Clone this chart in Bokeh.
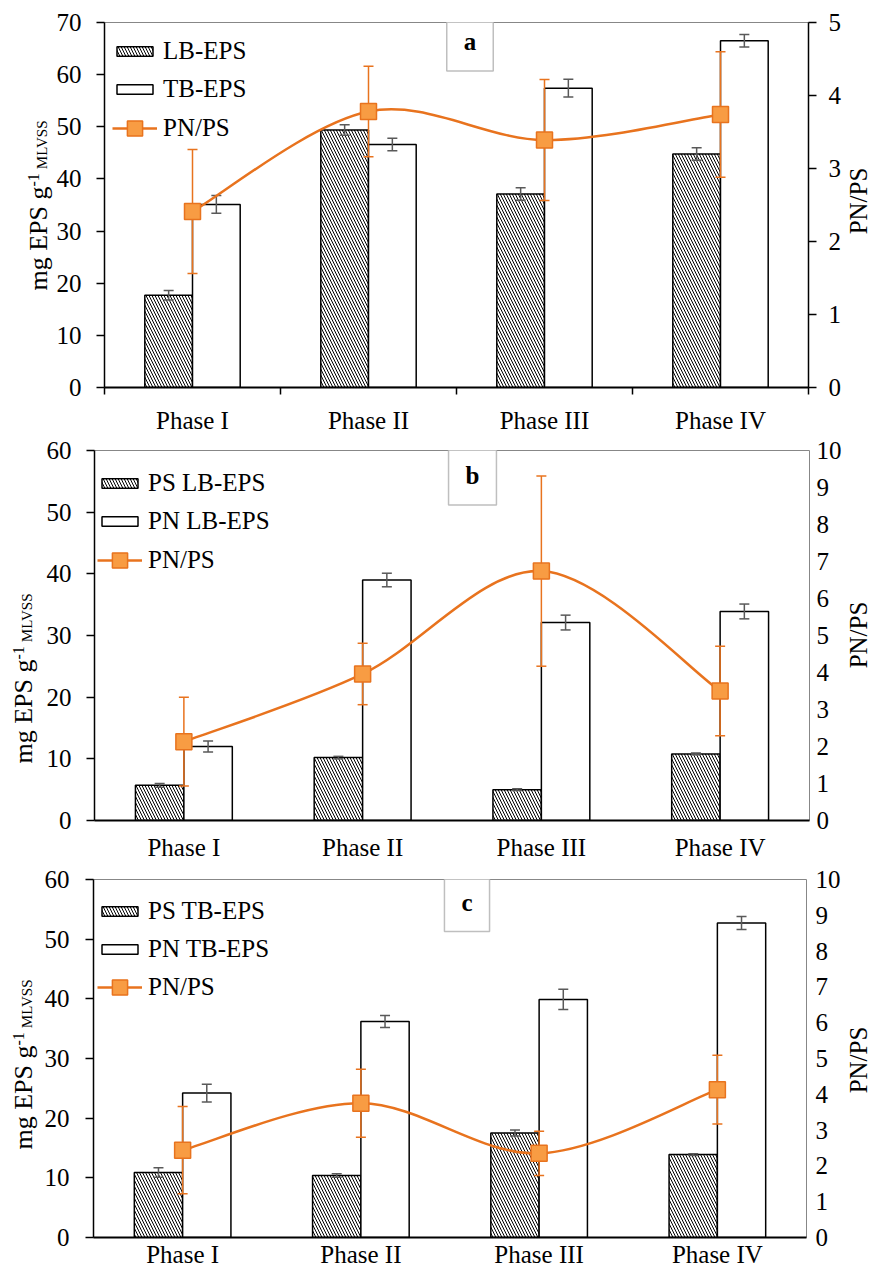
import math
from bokeh.plotting import figure
from bokeh.models import Range1d, LinearAxis, FixedTicker, Label, Legend, LegendItem
from bokeh.layouts import column, row
from bokeh.embed import file_html
from bokeh.resources import INLINE

phases = ["Phase I", "Phase II", "Phase III", "Phase IV"]

# Panel a
a_names = ["LB-EPS", "TB-EPS"]
a_lb = [17.7, 49.4, 37.1, 44.8]
a_lb_err = [0.9, 1.0, 1.2, 1.2]
a_tb = [35.1, 46.6, 57.4, 66.5]
a_tb_err = [1.7, 1.2, 1.7, 1.2]
a_ratio = [2.41, 3.78, 3.39, 3.74]
a_ratio_err = [0.85, 0.62, 0.83, 0.86]

# Panel b
b_names = ["PS LB-EPS", "PN LB-EPS"]
b_ps = [5.7, 10.2, 5.0, 10.8]
b_ps_err = [0.3, 0.2, 0.15, 0.15]
b_pn = [12.0, 39.0, 32.1, 33.9]
b_pn_err = [0.9, 1.1, 1.2, 1.2]
b_ratio = [2.13, 3.96, 6.74, 3.50]
b_ratio_err = [1.2, 0.83, 2.57, 1.21]

# Panel c
c_names = ["PS TB-EPS", "PN TB-EPS"]
c_ps = [10.9, 10.4, 17.5, 13.9]
c_ps_err = [0.8, 0.3, 0.5, 0.15]
c_pn = [24.2, 36.2, 39.9, 52.7]
c_pn_err = [1.5, 1.0, 1.7, 1.1]
c_ratio = [2.44, 3.75, 2.35, 4.13]
c_ratio_err = [1.22, 0.95, 0.62, 0.96]

FONT = "Liberation Serif"
FS = "25px"
ORANGE = "#E8731E"
OFILL = "#F89C43"
GRAY = "#595959"
BW = 0.271
DESC = 0.216

TW = {'m': 778, 'g': 500, ' ': 250, 'E': 611, 'P': 556, 'S': 556, '-': 333,
      '1': 500, 'M': 889, 'L': 611, 'V': 722}


def tw(s, size):
    return sum(TW[c] for c in s) / 1000.0 * size


def smooth(xs, ys):
    n = len(xs)
    P = list(zip(xs, ys))
    out = {k: [] for k in ["x0", "y0", "x1", "y1", "cx0", "cy0", "cx1", "cy1"]}
    for i in range(n - 1):
        p0 = P[i - 1] if i > 0 else P[i]
        p1 = P[i]
        p2 = P[i + 1]
        p3 = P[i + 2] if i + 2 < n else P[i + 1]
        out["x0"].append(p1[0]); out["y0"].append(p1[1])
        out["x1"].append(p2[0]); out["y1"].append(p2[1])
        out["cx0"].append(p1[0] + (p2[0] - p0[0]) / 6.0)
        out["cy0"].append(p1[1] + (p2[1] - p0[1]) / 6.0)
        out["cx1"].append(p2[0] - (p3[0] - p1[0]) / 6.0)
        out["cy1"].append(p2[1] - (p3[1] - p1[1]) / 6.0)
    return out


def errbars(p, xs, vals, errs, color, rng=None, width=1.5):
    kw = {}
    if rng:
        kw["y_range_name"] = rng
    lo = [v - e for v, e in zip(vals, errs)]
    hi = [v + e for v, e in zip(vals, errs)]
    p.segment(x0=xs, y0=lo, x1=xs, y1=hi, line_color=color, line_width=width, **kw)
    p.scatter(xs, hi, marker="dash", size=10, line_color=color, line_width=width, **kw)
    p.scatter(xs, lo, marker="dash", size=10, line_color=color, line_width=width, **kw)


def side_fig(w, h):
    f = figure(width=w, height=h, x_range=Range1d(0, 1), y_range=Range1d(0, 1),
               output_backend="svg", toolbar_location=None,
               x_axis_location=None, y_axis_location=None,
               min_border_left=0, min_border_right=0, min_border_top=0,
               min_border_bottom=0)
    f.xgrid.visible = False
    f.ygrid.visible = False
    f.outline_line_color = None
    return f


def vlabel(f, base_x, y, text, size_px, align="left"):
    # rotated text reading bottom-to-top; base_x is where the glyph baseline falls
    f.add_layout(Label(x=base_x + DESC * size_px, y=y, x_units="screen",
                       y_units="screen", text=text, angle=math.pi / 2,
                       text_align=align, text_baseline="bottom", text_font=FONT,
                       text_font_size="%dpx" % size_px, text_color="black"))


def build(cfg):
    h = cfg["h"]
    p = figure(width=cfg["w"], height=h, x_range=Range1d(0, 4),
               y_range=Range1d(0, cfg["ylmax"]), output_backend="svg",
               toolbar_location=None, min_border_left=cfg["bl"],
               min_border_top=cfg["bt"], min_border_right=cfg["br"],
               min_border_bottom=cfg["bb"])
    p.extra_y_ranges = {"r": Range1d(0, cfg["yrmax"])}
    p.xgrid.visible = False
    p.ygrid.visible = False
    p.outline_line_color = "#878787"
    p.outline_line_width = 1

    centers = [i + 0.5 for i in range(len(phases))]
    xa = [c - BW / 2 for c in centers]
    xb = [c + BW / 2 for c in centers]
    r1 = p.vbar(x=xa, top=cfg["s1"], width=BW, fill_color="white",
                line_color="black", line_width=1.5, hatch_pattern="\\",
                hatch_color="black", hatch_scale=6, hatch_weight=1.0)
    r2 = p.vbar(x=xb, top=cfg["s2"], width=BW, fill_color="white",
                line_color="black", line_width=1.5)
    errbars(p, xa, cfg["s1"], cfg["e1"], GRAY)
    errbars(p, xb, cfg["s2"], cfg["e2"], GRAY)
    errbars(p, centers, cfg["rt"], cfg["re"], ORANGE, "r")
    sm = smooth(centers, cfg["rt"])
    rl = p.bezier(line_color=ORANGE, line_width=2.5, y_range_name="r", **sm)
    rm = p.scatter(centers, cfg["rt"], marker="square", size=16,
                   fill_color=OFILL, line_color=ORANGE, line_width=1.5,
                   y_range_name="r")

    # axes
    xax = p.xaxis[0]
    xax.ticker = FixedTicker(ticks=centers,
                             minor_ticks=[0, 1, 2, 3, 4] if cfg["xticks"] else [])
    xax.major_label_overrides = {c: n for c, n in zip(centers, phases)}
    xax.major_tick_out = 0
    xax.major_tick_in = 0
    xax.minor_tick_out = 7
    xax.minor_tick_in = 0
    xax.minor_tick_line_color = "black"
    xax.minor_tick_line_width = 1.5
    xax.axis_line_width = 2
    xax.axis_line_color = "black"
    xax.major_label_standoff = cfg["xstand"]

    yax = p.yaxis[0]
    yax.ticker = FixedTicker(ticks=list(range(0, cfg["ylmax"] + 1, 10)))
    yax.major_tick_out = 8
    yax.major_tick_in = 0
    yax.minor_tick_out = 0
    yax.minor_tick_in = 0
    yax.axis_line_width = 1.5
    yax.axis_line_color = "black"
    yax.major_tick_line_width = 1.5
    yax.major_label_standoff = cfg["lstand"]

    rax = LinearAxis(y_range_name="r",
                     ticker=FixedTicker(ticks=list(range(0, cfg["yrmax"] + 1))))
    rax.minor_tick_out = 0
    rax.minor_tick_in = 0
    rax.major_tick_in = 0
    if cfg["rline"]:
        rax.axis_line_width = 1.5
        rax.axis_line_color = "black"
        rax.major_tick_out = 8
        rax.major_tick_line_width = 1.5
    else:
        rax.axis_line_color = None
        rax.major_tick_line_color = None
        rax.major_tick_out = 0
    rax.major_label_standoff = cfg["rstand"]
    p.add_layout(rax, "right")

    for ax in [xax, yax, rax]:
        ax.major_label_text_font = FONT
        ax.major_label_text_font_size = FS
        ax.major_label_text_color = "black"

    # legends
    H = cfg["fh"]
    rows = cfg["rows"]
    common = dict(label_text_font=FONT, label_text_font_size=FS,
                  label_text_color="black", glyph_width=45, label_standoff=6,
                  padding=0, margin=0, border_line_color=None,
                  background_fill_alpha=0, label_height=30, spacing=8)
    leg1 = Legend(items=[LegendItem(label=cfg["names"][0], renderers=[r1]),
                         LegendItem(label=cfg["names"][1], renderers=[r2])],
                  location=(cfg["lx"], H - (rows[0] - 15) - 68),
                  glyph_height=12, **common)
    leg2 = Legend(items=[LegendItem(label="PN/PS", renderers=[rl, rm])],
                  location=(cfg["lx"], H - (rows[2] + 19)),
                  glyph_height=38, **common)
    p.add_layout(leg1)
    p.add_layout(leg2)

    # panel letter
    lx, ly = cfg["letter_pos"]
    p.add_layout(Label(x=lx, y=ly, x_units="screen", y_units="screen",
                       text=cfg["letter"], text_align="center",
                       text_baseline="middle", text_font=FONT,
                       text_font_size="25px", text_font_style="bold",
                       text_color="black", border_line_color="#BFBFBF",
                       border_line_width=1.5, background_fill_color="white",
                       padding=(17, 16)))

    # left axis title with superscript and subscript (frame-aligned side plot)
    lf = side_fig(cfg["wl"], h)
    bx, y0 = cfg["ylab"]
    w_main = tw("mg EPS g", 26)
    w_sup = tw("-1", 16)
    vlabel(lf, bx, y0, "mg EPS g", 26)
    vlabel(lf, bx - 12, y0 + w_main, "-1", 16)
    vlabel(lf, bx - 1, y0 + w_main + w_sup + 4, "MLVSS", 15)
    # right axis title
    rf = side_fig(cfg["wr"], h)
    rx, ry = cfg["rlab"]
    vlabel(rf, rx, ry, "PN/PS", 25, align="center")
    return row(lf, p, rf, spacing=0)


pa = build(dict(wl=53, w=791, wr=28, h=436, bl=48, bt=22, br=35, bb=44, fh=370,
                ylmax=70, yrmax=5, s1=a_lb, e1=a_lb_err, s2=a_tb, e2=a_tb_err,
                rt=a_ratio, re=a_ratio_err, names=a_names, xticks=True,
                xstand=12, lstand=15, rline=True, rstand=12,
                rows=(34, 73, 111), lx=8, ylab=(47, 97), rlab=(22.2, 186.5),
                letter="a", letter_pos=(365.5, 346)))
pb = build(dict(wl=40, w=804, wr=28, h=428, bl=54, bt=14, br=35, bb=44, fh=370,
                ylmax=60, yrmax=10, s1=b_ps, e1=b_ps_err, s2=b_pn, e2=b_pn_err,
                rt=b_ratio, re=b_ratio_err, names=b_names, xticks=False,
                xstand=13, lstand=15, rline=False, rstand=7,
                rows=(33, 72, 110), lx=3, ylab=(32, 57), rlab=(22.2, 185.5),
                letter="b", letter_pos=(378, 345)))
pc = build(dict(wl=40, w=804, wr=28, h=406, bl=53, bt=15, br=38, bb=32, fh=359,
                ylmax=60, yrmax=10, s1=c_ps, e1=c_ps_err, s2=c_pn, e2=c_pn_err,
                rt=c_ratio, re=c_ratio_err, names=c_names, xticks=False,
                xstand=3, lstand=16, rline=False, rstand=9,
                rows=(33, 71, 109), lx=4, ylab=(32, 88), rlab=(22.2, 177.5),
                letter="c", letter_pos=(373.5, 335.5)))

layout = column(pa, pb, pc, spacing=0)
open("out.html", "w").write(file_html(layout, INLINE))
